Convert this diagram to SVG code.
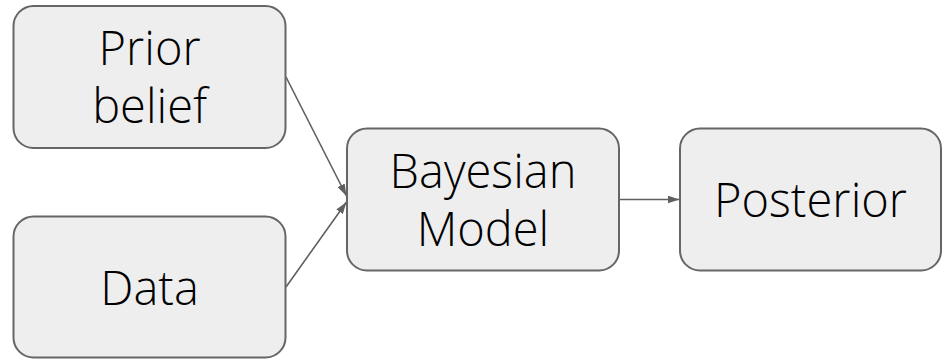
<svg xmlns="http://www.w3.org/2000/svg" width="942" height="359" viewBox="0 0 942 359">
<defs>
<style>
.box{fill:#eeeeee;stroke:#666666;stroke-width:2}
.lbl{font-family:"Open Sans Light","Open Sans","Noto Sans",sans-serif;font-weight:300;font-size:47px;fill:#000000;text-anchor:middle}
.edge{stroke:#5f5f5f;stroke-width:1.6;fill:none}
</style>
<marker id="arr" viewBox="0 0 12 8" refX="12" refY="4" markerWidth="12" markerHeight="8" markerUnits="userSpaceOnUse" orient="auto">
<path d="M0,0 L12,4 L0,8 Z" fill="#5f5f5f"/>
</marker>
</defs>
<rect width="942" height="359" fill="#ffffff"/>
<g id="connectors">
<line class="edge" x1="286" y1="77" x2="346.5" y2="196" marker-end="url(#arr)"/>
<line class="edge" x1="286" y1="287" x2="346.5" y2="202" marker-end="url(#arr)"/>
<line class="edge" x1="620" y1="199.5" x2="679.5" y2="199.5" marker-end="url(#arr)"/>
</g>
<g id="prior">
<rect class="box" x="13.5" y="6" width="272" height="142" rx="20"/>
<text class="lbl" x="149.6" y="65">Prior</text>
<text class="lbl" x="149.6" y="123">belief</text>
</g>
<g id="data">
<rect class="box" x="13.5" y="216.5" width="272" height="141" rx="20"/>
<text class="lbl" x="149.6" y="305">Data</text>
</g>
<g id="bayes">
<rect class="box" x="347" y="128.5" width="272" height="142" rx="20"/>
<text class="lbl" x="483" y="188">Bayesian</text>
<text class="lbl" x="483" y="246">Model</text>
</g>
<g id="posterior">
<rect class="box" x="680" y="128.5" width="261" height="142" rx="20"/>
<text class="lbl" x="810.5" y="217">Posterior</text>
</g>
</svg>
